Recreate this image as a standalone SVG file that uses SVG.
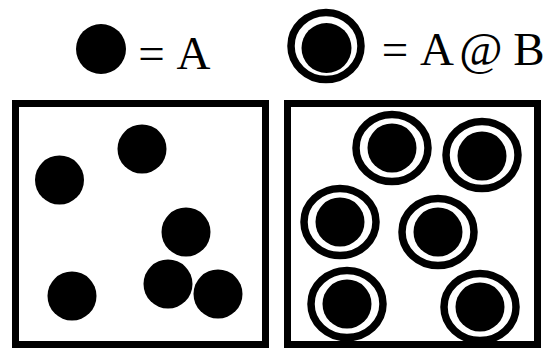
<svg xmlns="http://www.w3.org/2000/svg" width="544" height="352" viewBox="0 0 544 352">
<style>
.a{fill:#000}
.ring{fill:none;stroke:#000;stroke-width:7.5}
.box{fill:#fff;stroke:#000;stroke-width:7}
.t{font-family:"Liberation Serif",serif;font-size:47px;fill:#000;text-anchor:middle}
</style>
<rect width="544" height="352" fill="#fff"/>
<g id="legend-a">
<circle class="a" cx="101" cy="49" r="25"/>
<text class="t" x="151.5" y="69">=</text>
<text class="t" x="193.5" y="69">A</text>
</g>
<g id="legend-ab">
<ellipse class="ring" cx="326" cy="46" rx="35" ry="33.5" stroke-width="8"/>
<circle class="a" cx="326.5" cy="48" r="25"/>
<text class="t" x="395" y="65">=</text>
<text class="t" x="437" y="65">A</text>
<text class="t" x="481" y="65">@</text>
<text class="t" x="529" y="65">B</text>
</g>
<g id="box-left">
<rect class="box" x="15.5" y="103.5" width="250" height="241"/>
<circle class="a" cx="59.5" cy="180" r="24.5"/>
<circle class="a" cx="142" cy="149" r="24.5"/>
<circle class="a" cx="186" cy="232" r="24.5"/>
<circle class="a" cx="72" cy="296" r="24.5"/>
<circle class="a" cx="168" cy="284" r="24.5"/>
<circle class="a" cx="218" cy="294" r="24.5"/>
</g>
<g id="box-right">
<rect class="box" x="287.5" y="103.5" width="250" height="241"/>
<ellipse class="ring" cx="392" cy="148" rx="36" ry="33.5"/>
<circle class="a" cx="392" cy="148" r="24.5"/>
<ellipse class="ring" cx="482" cy="155" rx="36" ry="33.5"/>
<circle class="a" cx="482" cy="156" r="24.5"/>
<ellipse class="ring" cx="340" cy="222" rx="36" ry="33.5"/>
<circle class="a" cx="340" cy="222" r="24.5"/>
<ellipse class="ring" cx="438" cy="232" rx="36" ry="33.5"/>
<circle class="a" cx="438" cy="232" r="24.5"/>
<ellipse class="ring" cx="347" cy="304" rx="36" ry="33.5"/>
<circle class="a" cx="347" cy="304" r="24.5"/>
<ellipse class="ring" cx="480" cy="307" rx="36" ry="33.5"/>
<circle class="a" cx="480" cy="307" r="24.5"/>
</g>
</svg>
